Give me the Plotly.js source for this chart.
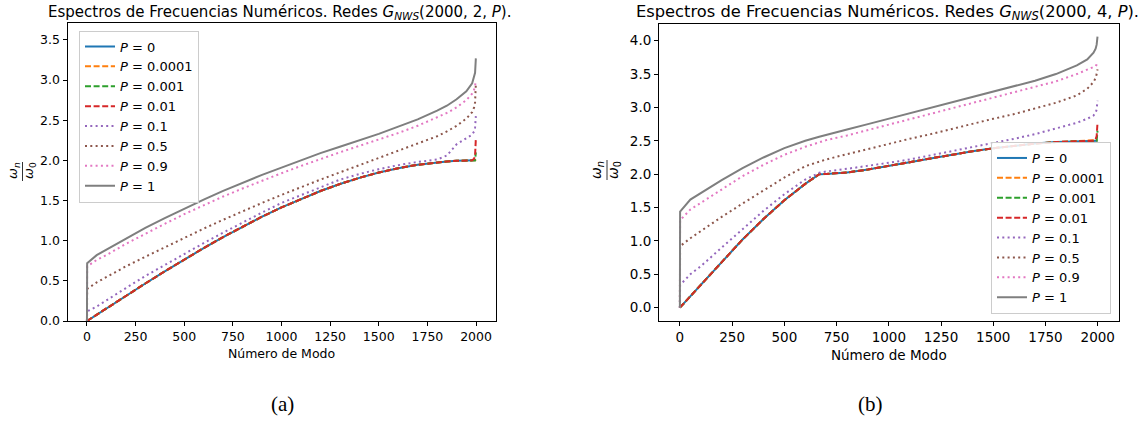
<!DOCTYPE html>
<html>
<head>
<meta charset="utf-8">
<script src="https://cdn.plot.ly/plotly-3.0.1.min.js"></script>
<style>html,body{margin:0;padding:0;background:#fff;}#chart{width:1148px;height:423px;}</style>
</head>
<body>
<div id="chart"></div>
<script>
// ---------- DATA ----------
const seriesLabels = ["P = 0", "P = 0.0001", "P = 0.001", "P = 0.01", "P = 0.1", "P = 0.5", "P = 0.9", "P = 1"];

// Panel (a): G_NWS(2000, 2, P)
const modesA = [0,1,50,100,200,300,400,500,600,700,800,900,1000,1100,1200,1300,1400,1500,1600,1700,1800,1850,1900,1950,1980,1990,1995,1999];
const a_P0     = [0,0.0016,0.079,0.157,0.313,0.467,0.618,0.765,0.908,1.045,1.176,1.299,1.414,1.521,1.618,1.705,1.782,1.848,1.902,1.945,1.975,1.986,1.994,1.998,2.0,2.0,2.0,2.0];
const a_P00001 = [0,0.0016,0.079,0.157,0.313,0.467,0.618,0.765,0.908,1.045,1.176,1.299,1.414,1.521,1.618,1.705,1.782,1.848,1.902,1.945,1.975,1.986,1.994,1.998,2.0,2.0,2.0,2.01];
const a_P0001  = [0,0.0016,0.079,0.157,0.313,0.467,0.618,0.765,0.908,1.045,1.176,1.299,1.414,1.521,1.618,1.705,1.782,1.848,1.902,1.945,1.975,1.986,1.994,1.998,2.0,2.0,2.0,2.1];
const a_P001   = [0,0.0016,0.079,0.157,0.313,0.467,0.618,0.765,0.908,1.045,1.176,1.299,1.414,1.521,1.618,1.705,1.782,1.848,1.902,1.945,1.975,1.986,1.994,1.998,2.0,2.02,2.06,2.27];
const a_P01    = [0,0.12,0.18,0.26,0.41,0.56,0.70,0.84,0.97,1.10,1.23,1.35,1.47,1.57,1.67,1.76,1.83,1.89,1.94,1.98,2.01,2.06,2.2,2.27,2.32,2.36,2.41,2.55];
const a_P05    = [0,0.40,0.48,0.55,0.68,0.80,0.92,1.04,1.15,1.26,1.37,1.47,1.57,1.67,1.76,1.85,1.94,2.03,2.12,2.21,2.30,2.36,2.43,2.52,2.60,2.66,2.72,2.95];
const a_P09    = [0,0.68,0.76,0.82,0.96,1.09,1.21,1.33,1.44,1.55,1.65,1.75,1.84,1.93,2.02,2.10,2.18,2.26,2.34,2.43,2.53,2.59,2.66,2.75,2.83,2.88,2.93,3.0];
const a_P1     = [0,0.72,0.82,0.89,1.03,1.16,1.28,1.40,1.51,1.62,1.72,1.82,1.91,2.00,2.09,2.17,2.25,2.33,2.42,2.51,2.62,2.68,2.76,2.86,2.96,3.03,3.09,3.27];

// Panel (b): G_NWS(2000, 4, P)
const modesB = [0,1,50,100,200,300,400,500,600,667,700,800,900,1000,1100,1200,1300,1400,1500,1600,1700,1800,1900,1950,1980,1990,1995,1999];
const b_P0     = [0,0.0035,0.175,0.350,0.693,1.021,1.328,1.608,1.855,2.0,2.004,2.025,2.069,2.12,2.179,2.236,2.292,2.342,2.388,2.426,2.458,2.481,2.493,2.497,2.499,2.5,2.5,2.5];
const b_P00001 = [0,0.0035,0.175,0.350,0.693,1.021,1.328,1.608,1.855,2.0,2.004,2.025,2.069,2.12,2.179,2.236,2.292,2.342,2.388,2.426,2.458,2.481,2.493,2.497,2.499,2.5,2.5,2.51];
const b_P0001  = [0,0.0035,0.175,0.350,0.693,1.021,1.328,1.608,1.855,2.0,2.004,2.025,2.069,2.12,2.179,2.236,2.292,2.342,2.388,2.426,2.458,2.481,2.493,2.497,2.499,2.5,2.5,2.65];
const b_P001   = [0,0.0035,0.175,0.350,0.693,1.021,1.328,1.608,1.855,2.0,2.004,2.025,2.069,2.12,2.179,2.236,2.292,2.342,2.388,2.426,2.458,2.481,2.493,2.497,2.5,2.52,2.57,2.77];
const b_P01    = [0,0.34,0.50,0.62,0.90,1.18,1.45,1.70,1.92,2.02,2.04,2.08,2.12,2.17,2.22,2.28,2.34,2.40,2.47,2.53,2.60,2.68,2.77,2.83,2.88,2.92,2.97,3.1];
const b_P05    = [0,0.92,1.04,1.15,1.36,1.56,1.76,1.95,2.12,2.19,2.22,2.30,2.38,2.46,2.53,2.60,2.68,2.75,2.83,2.90,2.98,3.07,3.18,3.28,3.38,3.44,3.50,3.57];
const b_P09    = [0,1.31,1.47,1.57,1.78,1.97,2.14,2.29,2.41,2.48,2.51,2.58,2.66,2.74,2.82,2.90,2.98,3.06,3.14,3.22,3.30,3.39,3.50,3.56,3.60,3.62,3.64,3.68];
const b_P1     = [0,1.44,1.62,1.72,1.91,2.09,2.25,2.39,2.50,2.56,2.59,2.67,2.75,2.83,2.91,2.99,3.07,3.15,3.23,3.31,3.40,3.50,3.63,3.72,3.82,3.88,3.94,4.06];

const xTicks = [0,250,500,750,1000,1250,1500,1750,2000];
const yTicksA = [0,0.5,1.0,1.5,2.0,2.5,3.0,3.5];
const yTicksB = [0,0.5,1.0,1.5,2.0,2.5,3.0,3.5,4.0];

// ---------- STYLE ----------
const colors = ["#1f77b4","#ff7f0e","#2ca02c","#d62728","#9467bd","#8c564b","#e377c2","#7f7f7f"];
const dashes = ["solid","6px,2.6px","6px,2.6px","6px,2.6px","2px,3.3px","2px,3.3px","2px,3.3px","solid"];
const W = 1148, H = 423;
const px = v => v / W;
const py = v => 1 - v / H;
const FONT = "DejaVu Sans, Verdana, sans-serif";
const SERIF = "Liberation Serif, DejaVu Serif, serif";

function legendText(lbl){
  return "<i>P</i>" + lbl.slice(1);
}

const seriesA = [a_P0,a_P00001,a_P0001,a_P001,a_P01,a_P05,a_P09,a_P1];
const seriesB = [b_P0,b_P00001,b_P0001,b_P001,b_P01,b_P05,b_P09,b_P1];

const traces = [];
seriesA.forEach((ys, i) => traces.push({
  type: "scatter", mode: "lines", x: modesA, y: ys,
  name: legendText(seriesLabels[i]), xaxis: "x", yaxis: "y", legend: "legend",
  line: {color: colors[i], width: 2, dash: dashes[i]}
}));
seriesB.forEach((ys, i) => traces.push({
  type: "scatter", mode: "lines", x: modesB, y: ys,
  name: legendText(seriesLabels[i]), xaxis: "x2", yaxis: "y2", legend: "legend2",
  line: {color: colors[i], width: 2, dash: dashes[i]}
}));

function xAxis(domain, fs, anchor){
  return {
    domain: domain, range: [-100, 2100], anchor: anchor,
    tickvals: xTicks, ticktext: xTicks.map(String),
    ticks: "outside", ticklen: 4, tickwidth: 1, tickcolor: "#000",
    showline: true, mirror: true, linecolor: "#000", linewidth: 1,
    showgrid: false, zeroline: false,
    tickfont: {family: FONT, size: fs, color: "#000"},
    title: {text: "Número de Modo", font: {family: FONT, size: fs, color: "#000"}, standoff: 6}
  };
}
function yAxis(domain, range, ticks, fs, anchor){
  return {
    domain: domain, range: range, anchor: anchor,
    tickvals: ticks, ticktext: ticks.map(v => v.toFixed(1)),
    ticks: "outside", ticklen: 4, tickwidth: 1, tickcolor: "#000",
    showline: true, mirror: true, linecolor: "#000", linewidth: 1,
    showgrid: false, zeroline: false,
    tickfont: {family: FONT, size: fs, color: "#000"}
  };
}

const legendBase = {
  bgcolor: "rgba(255,255,255,0.85)", bordercolor: "#cccccc", borderwidth: 1,
  font: {family: FONT, size: 13, color: "#000"}, itemwidth: 30,
  xref: "paper", yref: "paper", tracegroupgap: 0
};

function ann(text, x, y, size, family, angle){
  const a = {text: text, xref: "paper", yref: "paper", x: px(x), y: py(y),
    xanchor: "center", yanchor: "middle", showarrow: false,
    font: {family: family, size: size, color: "#000"}};
  if (angle !== undefined) a.textangle = angle;
  return a;
}

const layout = {
  width: W, height: H,
  margin: {l: 0, r: 0, t: 0, b: 0},
  paper_bgcolor: "#fff", plot_bgcolor: "#fff",
  showlegend: true,
  xaxis: xAxis([px(67.5), px(495.5)], 12.5, "y"),
  yaxis: yAxis([py(321), py(23)], [0, 3.71], yTicksA, 12.5, "x"),
  xaxis2: xAxis([px(659), px(1118.6)], 13.5, "y2"),
  yaxis2: yAxis([py(321), py(24)], [-0.2, 4.25], yTicksB, 13.5, "x2"),
  legend: Object.assign({}, legendBase, {x: px(79), y: py(30.5), xanchor: "left", yanchor: "top"}),
  legend2: Object.assign({}, legendBase, {x: px(1111), y: py(314), xanchor: "right", yanchor: "bottom"}),
  annotations: [
    ann("Espectros de Frecuencias Numéricos. Redes <i>G</i><sub><i>NWS</i></sub>(2000, 2, <i>P</i>).", 279, 12, 15, FONT),
    ann("Espectros de Frecuencias Numéricos. Redes <i>G</i><sub><i>NWS</i></sub>(2000, 4, <i>P</i>).", 887, 12, 16.3, FONT),
    ann("<i>ω</i><sub><i>n</i></sub>", 13, 171, 13, FONT, -90),
    ann("<i>ω</i><sub>0</sub>", 29, 171, 13, FONT, -90),
    ann("<i>ω</i><sub><i>n</i></sub>", 597, 170, 14, FONT, -90),
    ann("<i>ω</i><sub>0</sub>", 614, 170, 14, FONT, -90),
    ann("(a)", 282, 404, 21, SERIF),
    ann("(b)", 870, 404, 21, SERIF)
  ],
  shapes: [
    {type: "line", xref: "paper", yref: "paper", x0: px(22.5), x1: px(22.5), y0: py(162), y1: py(181),
     line: {color: "#000", width: 0.8}},
    {type: "line", xref: "paper", yref: "paper", x0: px(607), x1: px(607), y0: py(160), y1: py(180),
     line: {color: "#000", width: 0.8}}
  ]
};

Plotly.newPlot("chart", traces, layout, {staticPlot: true, displayModeBar: false});
</script>
</body>
</html>
